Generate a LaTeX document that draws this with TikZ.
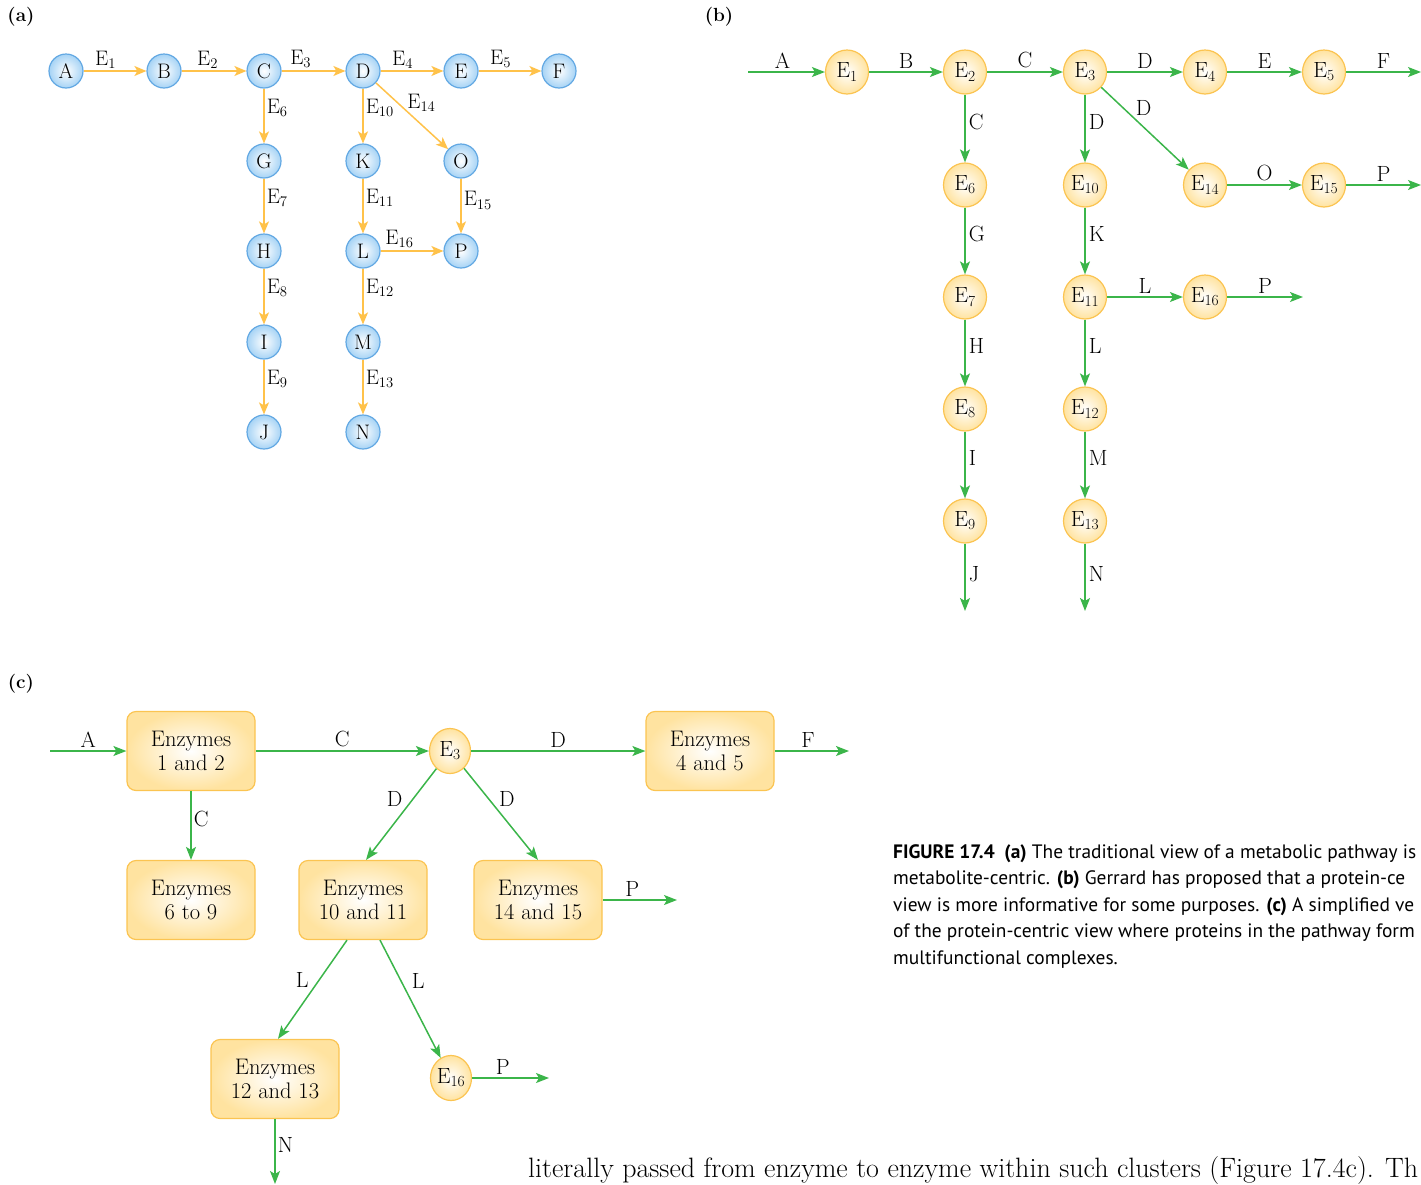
\documentclass[tikz,border=0pt]{standalone}
\usepackage{fontspec}
\newfontfamily\capfont{PT Sans}
\usetikzlibrary{arrows.meta, positioning, shapes.geometric}
\definecolor{pathYellow}{HTML}{FFC24A}
\definecolor{pathBlue}{HTML}{62A8E3}
\definecolor{pathBlueFill}{HTML}{A6D3F5}
\definecolor{pathGreen}{HTML}{3BB54A}
\definecolor{pathOrange}{HTML}{FBC451}
\definecolor{pathCream}{HTML}{FFE3A0}

\begin{document}
\begin{tikzpicture}[
        x=1pt, y=-1pt,
        metab/.style={
            circle,
            draw=pathBlue,
            line width=1.2pt,
            inner color=white,
            outer color=pathBlueFill,
            minimum size=34pt,
            inner sep=0pt,
            font=\fontsize{21}{24}\selectfont
        },
        enz/.style={
            ellipse,
            draw=pathOrange,
            line width=1.2pt,
            inner color=white,
            outer color=pathCream,
            minimum width=43pt,
            minimum height=44pt,
            inner sep=0pt,
            font=\fontsize{22}{26}\selectfont
        },
        cplx/.style={
            rectangle,
            rounded corners=9pt,
            draw=pathOrange,
            line width=1.2pt,
            inner color=white,
            outer color=pathCream,
            minimum width=128pt,
            minimum height=79pt,
            align=center,
            font=\fontsize{22.5}{24}\selectfont
        },
        yarrow/.style={
            draw=pathYellow,
            line width=1.5pt,
            -{Stealth[length=12pt,width=10pt,inset=3pt]}
        },
        garrow/.style={
            draw=pathGreen,
            line width=1.5pt,
            -{Stealth[length=13pt,width=10pt,inset=3pt]}
        },
        elabel/.style={
            inner sep=2pt,
            font=\fontsize{21}{24}\selectfont
        },
        mlabel/.style={
            inner sep=3pt,
            font=\fontsize{22}{26}\selectfont
        },
        panellabel/.style={
            font=\bfseries\fontsize{19}{22}\selectfont
        },
        capline/.style={
            anchor=base west,
            inner sep=0pt,
            font=\capfont\fontsize{19.4}{22}\selectfont
        }
    ]

    \useasboundingbox (0,0) rectangle (1421,1184);
    \clip (0,0) rectangle (1421,1184);

    % (a) metabolites joined by enzymes
    \node[panellabel] (labA) at (21,17) {(a)};

    \node[metab] (aA) at (66,71) {A};
    \node[metab] (aB) at (164,71) {B};
    \node[metab] (aC) at (264,71) {C};
    \node[metab] (aD) at (363,71) {D};
    \node[metab] (aE) at (461,71) {E};
    \node[metab] (aF) at (559,71) {F};
    \node[metab] (aG) at (264,161) {G};
    \node[metab] (aH) at (264,251) {H};
    \node[metab] (aI) at (264,342) {I};
    \node[metab] (aJ) at (264,432) {J};
    \node[metab] (aK) at (363,161) {K};
    \node[metab] (aL) at (363,251) {L};
    \node[metab] (aM) at (363,342) {M};
    \node[metab] (aN) at (363,432) {N};
    \node[metab] (aO) at (461,161) {O};
    \node[metab] (aP) at (461,251) {P};

    \draw[yarrow] (aA) -- node[elabel,above,pos=0.35] {E\textsubscript{1}} (aB);
    \draw[yarrow] (aB) -- node[elabel,above,pos=0.4] {E\textsubscript{2}} (aC);
    \draw[yarrow] (aC) -- node[elabel,above,pos=0.3] {E\textsubscript{3}} (aD);
    \draw[yarrow] (aD) -- node[elabel,above,pos=0.35] {E\textsubscript{4}} (aE);
    \draw[yarrow] (aE) -- node[elabel,above,pos=0.35] {E\textsubscript{5}} (aF);
    \draw[yarrow] (aC) -- node[elabel,right,pos=0.35] {E\textsubscript{6}} (aG);
    \draw[yarrow] (aG) -- node[elabel,right,pos=0.35] {E\textsubscript{7}} (aH);
    \draw[yarrow] (aH) -- node[elabel,right,pos=0.35] {E\textsubscript{8}} (aI);
    \draw[yarrow] (aI) -- node[elabel,right,pos=0.35] {E\textsubscript{9}} (aJ);
    \draw[yarrow] (aD) -- node[elabel,right,pos=0.35] {E\textsubscript{10}} (aK);
    \draw[yarrow] (aK) -- node[elabel,right,pos=0.35] {E\textsubscript{11}} (aL);
    \draw[yarrow] (aL) -- node[elabel,right,pos=0.35] {E\textsubscript{12}} (aM);
    \draw[yarrow] (aM) -- node[elabel,right,pos=0.35] {E\textsubscript{13}} (aN);
    \draw[yarrow] (aD) -- node[elabel,right,pos=0.3,inner sep=9pt] {E\textsubscript{14}} (aO);
    \draw[yarrow] (aO) -- node[elabel,right,pos=0.4] {E\textsubscript{15}} (aP);
    \draw[yarrow] (aL) -- node[elabel,above,pos=0.3] {E\textsubscript{16}} (aP);

    % (b) enzymes joined by metabolites
    \node[panellabel] (labB) at (719,17) {(b)};

    \coordinate (bIn) at (748,72);
    \coordinate (bOutF) at (1421,72);
    \coordinate (bOutO) at (1421,185);
    \coordinate (bOutL) at (1303,297);
    \coordinate (bOutJ) at (965,611);
    \coordinate (bOutN) at (1085,611);

    \node[enz] (bE1) at (847,72) {E\textsubscript{1}};
    \node[enz] (bE2) at (965,72) {E\textsubscript{2}};
    \node[enz] (bE3) at (1085,72) {E\textsubscript{3}};
    \node[enz] (bE4) at (1205,72) {E\textsubscript{4}};
    \node[enz] (bE5) at (1324,72) {E\textsubscript{5}};
    \node[enz] (bE6) at (965,185) {E\textsubscript{6}};
    \node[enz] (bE7) at (965,297) {E\textsubscript{7}};
    \node[enz] (bE8) at (965,409) {E\textsubscript{8}};
    \node[enz] (bE9) at (965,521) {E\textsubscript{9}};
    \node[enz] (bE10) at (1085,185) {E\textsubscript{10}};
    \node[enz] (bE11) at (1085,297) {E\textsubscript{11}};
    \node[enz] (bE12) at (1085,409) {E\textsubscript{12}};
    \node[enz] (bE13) at (1085,521) {E\textsubscript{13}};
    \node[enz] (bE14) at (1205,185) {E\textsubscript{14}};
    \node[enz] (bE15) at (1324,185) {E\textsubscript{15}};
    \node[enz] (bE16) at (1205,297) {E\textsubscript{16}};

    \draw[garrow] (bIn) -- node[mlabel,above,pos=0.45] {A} (bE1);
    \draw[garrow] (bE1) -- node[mlabel,above] {B} (bE2);
    \draw[garrow] (bE2) -- node[mlabel,above] {C} (bE3);
    \draw[garrow] (bE3) -- node[mlabel,above] {D} (bE4);
    \draw[garrow] (bE4) -- node[mlabel,above] {E} (bE5);
    \draw[garrow] (bE5) -- node[mlabel,above,pos=0.5] {F} (bOutF);
    \draw[garrow] (bE2) -- node[mlabel,right,pos=0.4] {C} (bE6);
    \draw[garrow] (bE6) -- node[mlabel,right,pos=0.4] {G} (bE7);
    \draw[garrow] (bE7) -- node[mlabel,right,pos=0.4] {H} (bE8);
    \draw[garrow] (bE8) -- node[mlabel,right,pos=0.4] {I} (bE9);
    \draw[garrow] (bE9) -- node[mlabel,right,pos=0.45] {J} (bOutJ);
    \draw[garrow] (bE3) -- node[mlabel,right,pos=0.4] {D} (bE10);
    \draw[garrow] (bE10) -- node[mlabel,right,pos=0.4] {K} (bE11);
    \draw[garrow] (bE11) -- node[mlabel,right,pos=0.4] {L} (bE12);
    \draw[garrow] (bE12) -- node[mlabel,right,pos=0.4] {M} (bE13);
    \draw[garrow] (bE13) -- node[mlabel,right,pos=0.45] {N} (bOutN);
    \draw[garrow] (bE3) -- node[mlabel,right,pos=0.25,inner sep=12pt] {D} (bE14);
    \draw[garrow] (bE14) -- node[mlabel,above] {O} (bE15);
    \draw[garrow] (bE15) -- node[mlabel,above,pos=0.5] {P} (bOutO);
    \draw[garrow] (bE11) -- node[mlabel,above] {L} (bE16);
    \draw[garrow] (bE16) -- node[mlabel,above] {P} (bOutL);

    % (c) enzymes grouped into complexes
    \node[panellabel] (labC) at (21,684) {(c)};

    \coordinate (cIn) at (50,751);
    \coordinate (cOutF) at (849,751);
    \coordinate (cOutP) at (677,900);
    \coordinate (cOutQ) at (549,1078);
    \coordinate (cOutN) at (275,1184);

    \node[cplx] (cEnz12) at (191,751) {Enzymes\\1 and 2};
    \node[cplx] (cEnz45) at (710,751) {Enzymes\\4 and 5};
    \node[cplx] (cEnz69) at (191,900) {Enzymes\\6 to 9};
    \node[cplx] (cEnz1011) at (363,900) {Enzymes\\10 and 11};
    \node[cplx] (cEnz1415) at (538,900) {Enzymes\\14 and 15};
    \node[cplx] (cEnz1213) at (275,1079) {Enzymes\\12 and 13};
    \node[enz,minimum width=41pt,minimum height=45pt] (cE3) at (450,751) {E\textsubscript{3}};
    \node[enz,minimum width=41pt,minimum height=45pt] (cE16) at (451,1078) {E\textsubscript{16}};

    \draw[garrow] (cIn) -- node[mlabel,above] {A} (cEnz12);
    \draw[garrow] (cEnz12) -- node[mlabel,above] {C} (cE3);
    \draw[garrow] (cE3) -- node[mlabel,above] {D} (cEnz45);
    \draw[garrow] (cEnz45) -- node[mlabel,above,pos=0.45] {F} (cOutF);
    \draw[garrow] (cEnz12) -- node[mlabel,right,pos=0.4,inner sep=2pt] {C} (cEnz69);
    \draw[garrow] (cE3) -- node[mlabel,left,pos=0.33,inner sep=10pt] {D} ([xshift=3pt]cEnz1011.north);
    \draw[garrow] (cE3) -- node[mlabel,right,pos=0.33,inner sep=10pt] {D} (cEnz1415.north);
    \draw[garrow] (cEnz1415) -- node[mlabel,above,pos=0.4] {P} (cOutP);
    \draw[garrow] ([xshift=-16pt]cEnz1011.south) -- node[mlabel,left,pos=0.4,inner sep=10pt] {L} ([xshift=3pt]cEnz1213.north);
    \draw[garrow] ([xshift=17pt]cEnz1011.south) -- node[mlabel,right,pos=0.35,inner sep=10pt] {L} (cE16);
    \draw[garrow] (cE16) -- node[mlabel,above,pos=0.4] {P} (cOutQ);
    \draw[garrow] (cEnz1213) -- node[mlabel,right,pos=0.4,inner sep=2pt] {N} (cOutN);

    % caption and running text, cut at the page edge
    \node[capline] (capA) at (893,858)
        {\textbf{FIGURE 17.4}\enspace\textbf{(a)} The traditional view of a metabolic pathway is};
    \node[capline] (capB) at (893,884.5)
        {metabolite-centric. \textbf{(b)} Gerrard has proposed that a protein-ce};
    \node[capline] (capC) at (893,911)
        {view is more informative for some purposes. \textbf{(c)} A simplified ve};
    \node[capline] (capD) at (893,937.5)
        {of the protein-centric view where proteins in the pathway form};
    \node[capline] (capE) at (893,964)
        {multifunctional complexes.};

    \node[anchor=base west,inner sep=0pt,font=\fontsize{28}{32}\selectfont] (body) at (528,1177)
        {literally passed from enzyme to enzyme within such clusters (Figure 17.4c). Th};

\end{tikzpicture}
\end{document}
